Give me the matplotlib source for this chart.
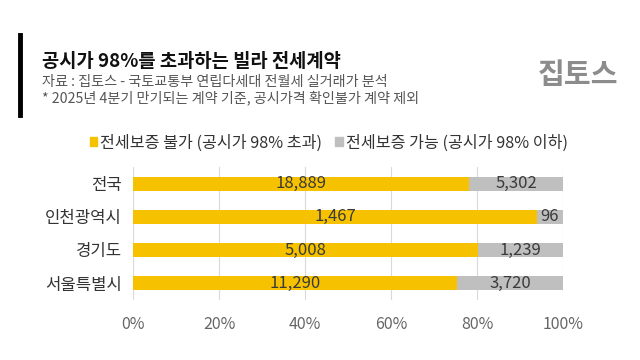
import matplotlib.pyplot as plt
from matplotlib.patches import Patch
import numpy as np

plt.rcParams['font.family'] = ['Noto Sans CJK KR', 'DejaVu Sans']

regions = ["전국", "인천광역시", "경기도", "서울특별시"]
blocked = [18889, 1467, 5008, 11290]   # 전세보증 불가
allowed = [5302, 96, 1239, 3720]       # 전세보증 가능
ticks = [0, 20, 40, 60, 80, 100]

blocked = np.array(blocked, dtype=float)
allowed = np.array(allowed, dtype=float)
total = blocked + allowed
p_blk = blocked / total * 100
p_alw = allowed / total * 100

yellow = "#F6C200"
gray = "#BFBFBF"

fig = plt.figure(figsize=(6.4, 3.6), dpi=100)
ax = fig.add_axes([0.208, 0.168, 0.672, 0.367])

y = np.arange(len(regions))
ax.barh(y, p_blk, height=0.42, color=yellow, zorder=2)
ax.barh(y, p_alw, left=p_blk, height=0.42, color=gray, zorder=2)

for i in range(len(regions)):
    ax.text(p_blk[i] / 2, y[i], f"{int(blocked[i]):,}", ha="center", va="center",
            fontsize=12, color="#3a3a3a", zorder=3)
    ax.text(p_blk[i] + p_alw[i] / 2, y[i], f"{int(allowed[i]):,}", ha="center", va="center",
            fontsize=12, color="#3a3a3a", zorder=3)

ax.set_xlim(0, 100)
ax.set_ylim(len(regions) - 0.5, -0.5)
ax.set_yticks(y)
ax.set_yticklabels(regions, fontsize=12, color="#333333")
ax.set_xticks(ticks)
ax.set_xticklabels([f"{t}%" for t in ticks], fontsize=11.5, color="#666666")
ax.tick_params(length=0, pad=8)
ax.tick_params(axis="x", pad=12)
ax.grid(axis="x", color="#d9d9d9", linewidth=0.8, zorder=0)
for s in ax.spines.values():
    s.set_visible(False)

# header
fig.add_artist(plt.Line2D([0.031, 0.031], [0.681, 0.903], color="black", linewidth=3.5))
fig.text(0.066, 0.828, "공시가 98%를 초과하는 빌라 전세계약", fontsize=13.5, fontweight="bold",
         color="#111111", va="center")
fig.text(0.066, 0.771, "자료 : 집토스 - 국토교통부 연립다세대 전월세 실거래가 분석", fontsize=10.2,
         color="#555555", va="center")
fig.text(0.066, 0.727, "* 2025년 4분기 만기되는 계약 기준, 공시가격 확인불가 계약 제외", fontsize=10.2,
         color="#555555", va="center")
fig.text(0.903, 0.792, "집토스", fontsize=21, fontweight="bold", color="#8c8c8c",
         ha="center", va="center")

# legend
handles = [Patch(color=yellow), Patch(color=gray)]
labels = ["전세보증 불가 (공시가 98% 초과)", "전세보증 가능 (공시가 98% 이하)"]
fig.legend(handles, labels, loc="center left", bbox_to_anchor=(0.118, 0.603), ncol=2,
           frameon=False, fontsize=11.6, handlelength=0.45, handleheight=0.45,
           handletextpad=0.2, columnspacing=0.8, labelcolor="#333333")

fig.savefig("out.png", dpi=100)
